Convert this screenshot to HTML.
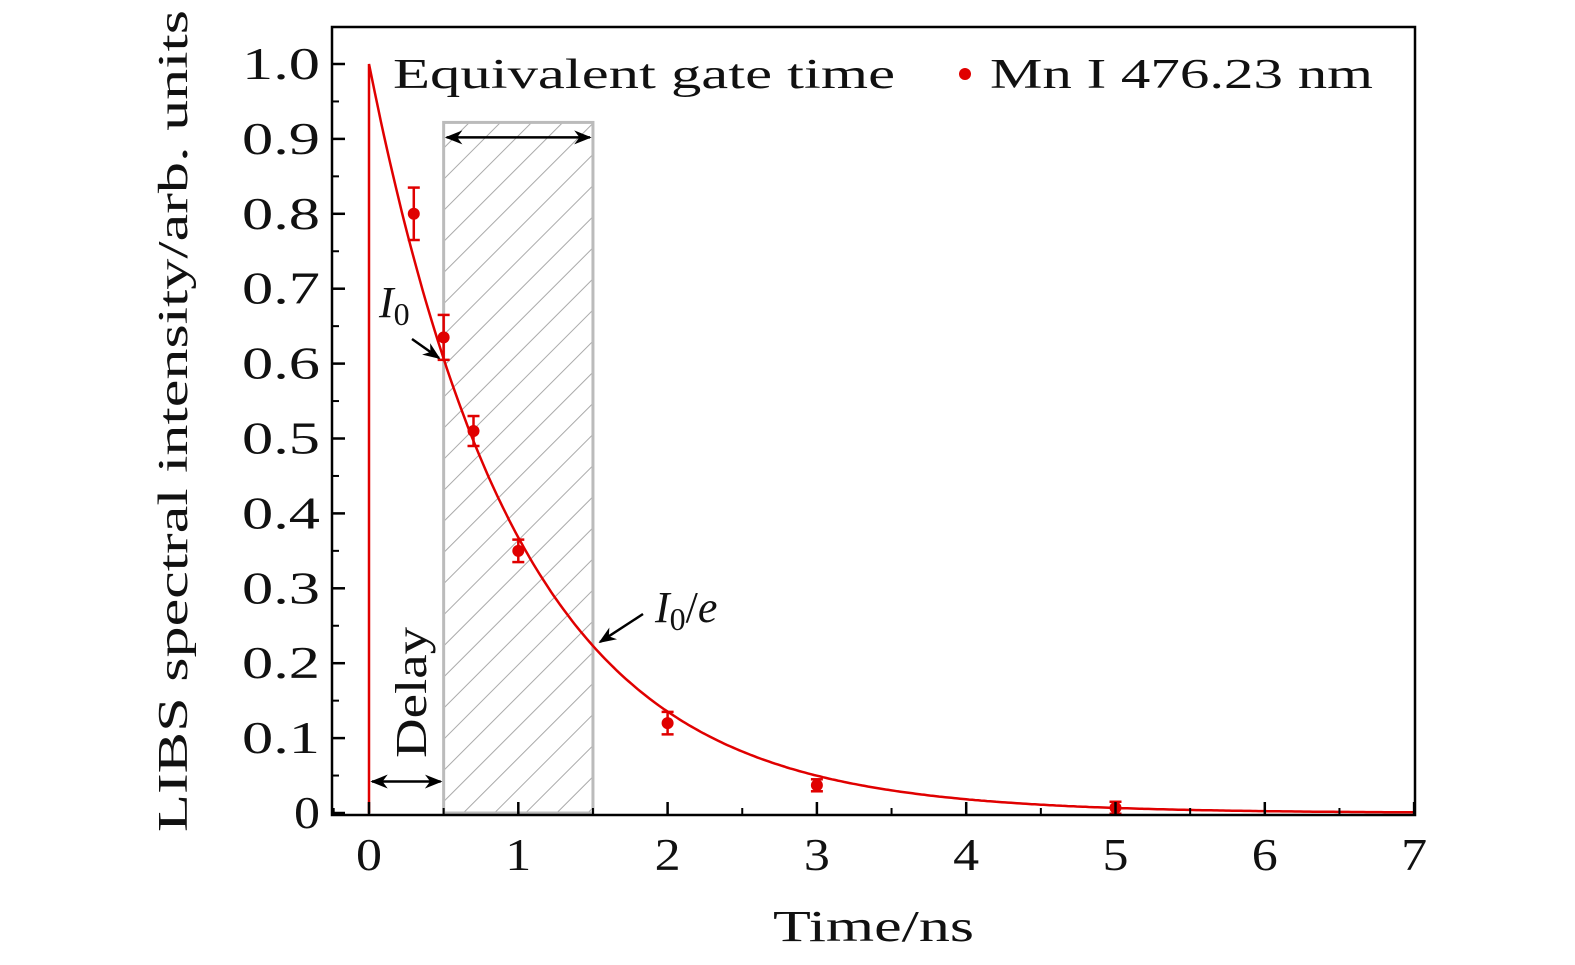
<!DOCTYPE html>
<html><head><meta charset="utf-8"><style>
html,body{margin:0;background:#fff;overflow:hidden;width:1575px;height:965px;}
svg{display:block;}
svg text{font-family:"Liberation Serif",serif;fill:#111;}
</style></head><body>
<svg id="chart" width="1575" height="965" xmlns="http://www.w3.org/2000/svg">
<defs>
<pattern id="hatch" patternUnits="userSpaceOnUse" width="22" height="22" patternTransform="rotate(45)">
<line x1="0" y1="0" x2="0" y2="22" stroke="#aaa" stroke-width="2"/>
</pattern>
<marker id="ah" viewBox="0 0 10 10" refX="9" refY="5" markerWidth="7" markerHeight="7" orient="auto-start-reverse"><path d="M0,1 L10,5 L0,9 L3,5z" fill="#000"/></marker>
</defs>
<g id="g"></g>
<text x="773" y="941" font-size="44" textLength="201" lengthAdjust="spacingAndGlyphs">Time/ns</text>
<text transform="translate(187,832) rotate(-90)" font-size="42" textLength="822" lengthAdjust="spacingAndGlyphs">LIBS spectral intensity/arb. units</text>
<text x="393" y="88" font-size="42" textLength="502" lengthAdjust="spacingAndGlyphs">Equivalent gate time</text>
<circle cx="965" cy="74" r="6" fill="#e00000"/>
<text x="990" y="88" font-size="42" textLength="383" lengthAdjust="spacingAndGlyphs">Mn I 476.23 nm</text>
<text x="379" y="317" font-size="44" font-style="italic">I<tspan font-style="normal" font-size="32" dy="8">0</tspan></text>
<line x1="412" y1="339" x2="439" y2="358" stroke="#000" stroke-width="2.5" marker-end="url(#ah)"/>
<text x="655" y="622" font-size="44" font-style="italic">I<tspan font-style="normal" font-size="32" dy="8">0</tspan><tspan dy="-8" font-style="normal">/</tspan>e</text>
<line x1="643" y1="614" x2="600" y2="642" stroke="#000" stroke-width="2.5" marker-end="url(#ah)"/>
<text transform="translate(426,758) rotate(-90)" font-size="44" textLength="131" lengthAdjust="spacingAndGlyphs">Delay</text>
</svg>
<script>
const times=[0.3,0.5,0.7,1,2,3,5];
const intensities=[0.80,0.635,0.51,0.35,0.12,0.037,0.007];
const errors=[0.035,0.03,0.02,0.015,0.015,0.008,0.008];
const xTicks=[0,1,2,3,4,5,6,7];
const yTicks=[0,0.1,0.2,0.3,0.4,0.5,0.6,0.7,0.8,0.9,1.0];
const yLabels=["0","0.1","0.2","0.3","0.4","0.5","0.6","0.7","0.8","0.9","1.0"];
const gateStart=0.5, gateEnd=1.5, gateTop=0.922, tau=1.0;

const X=v=>369+v*149.3, Y=v=>813-v*749;
const NS="http://www.w3.org/2000/svg";
const g=document.getElementById('g');
function mk(t,a,p){const e=document.createElementNS(NS,t);for(const k in a)e.setAttribute(k,a[k]);(p||g).appendChild(e);return e;}
const L=332,R=1415,T=27,B=815;

let r=mk('rect',{x:X(gateStart),y:Y(gateTop),width:X(gateEnd)-X(gateStart),height:Y(0)-Y(gateTop),fill:'url(#hatch)',stroke:'#bbb','stroke-width':3});


let a=mk('line',{x1:X(gateStart)+3,y1:Y(0.902),x2:X(gateEnd)-3,y2:Y(0.902),stroke:'#000','stroke-width':2.5,'marker-start':'url(#ah)','marker-end':'url(#ah)'});


a=mk('line',{x1:X(0)+3,y1:Y(0.042),x2:X(gateStart)-3,y2:Y(0.042),stroke:'#000','stroke-width':2.5,'marker-start':'url(#ah)','marker-end':'url(#ah)'});



let d=`M${X(0)},${Y(0)} L${X(0)},${Y(1)}`;
for(let t=0;t<=7.0001;t+=0.02)d+=` L${X(t).toFixed(1)},${Y(Math.exp(-t/tau)).toFixed(1)}`;
let c=mk('path',{d:d,fill:'none',stroke:'#e00000','stroke-width':2.5});



times.forEach((t,i)=>{
 const x=X(t),y=Y(intensities[i]),y1=Y(intensities[i]+errors[i]),y2=Y(intensities[i]-errors[i]);
 const gg=mk('g',{});
 
 
 mk('line',{x1:x,y1:y1,x2:x,y2:y2,stroke:'#e00000','stroke-width':2.5},gg);
 mk('line',{x1:x-6,y1:y1,x2:x+6,y2:y1,stroke:'#e00000','stroke-width':2.5},gg);
 mk('line',{x1:x-6,y1:y2,x2:x+6,y2:y2,stroke:'#e00000','stroke-width':2.5},gg);
 mk('circle',{cx:x,cy:y,r:6,fill:'#e00000'},gg);
});

let f=mk('rect',{x:L,y:T,width:R-L,height:B-T,fill:'none',stroke:'#000','stroke-width':2.5});



yTicks.forEach((v,i)=>{
 mk('line',{x1:L,y1:Y(v),x2:L+13,y2:Y(v),stroke:'#000','stroke-width':2.5});
 if(i<yTicks.length-1)mk('line',{x1:L,y1:Y(v+0.05),x2:L+7,y2:Y(v+0.05),stroke:'#000','stroke-width':2});
 const s=yLabels[i];
 const w=s.length===1?26:78;
 const t=mk('text',{x:320-w,y:Y(v)+15,'font-size':45,textLength:w,lengthAdjust:'spacingAndGlyphs'});
 t.textContent=s;
 
 
});
xTicks.forEach((v,i)=>{
 mk('line',{x1:X(v),y1:B,x2:X(v),y2:B-13,stroke:'#000','stroke-width':2.5});
 if(i<xTicks.length-1)mk('line',{x1:X(v+0.5),y1:B,x2:X(v+0.5),y2:B-7,stroke:'#000','stroke-width':2});
 const t=mk('text',{x:X(v)-13,y:870,'font-size':45,textLength:26,lengthAdjust:'spacingAndGlyphs'});
 t.textContent=v;
 
 
});
mk('line',{x1:X(-0.25)+2,y1:B,x2:X(-0.25)+2,y2:B-7,stroke:'#000','stroke-width':2});
</script>
</body></html>
